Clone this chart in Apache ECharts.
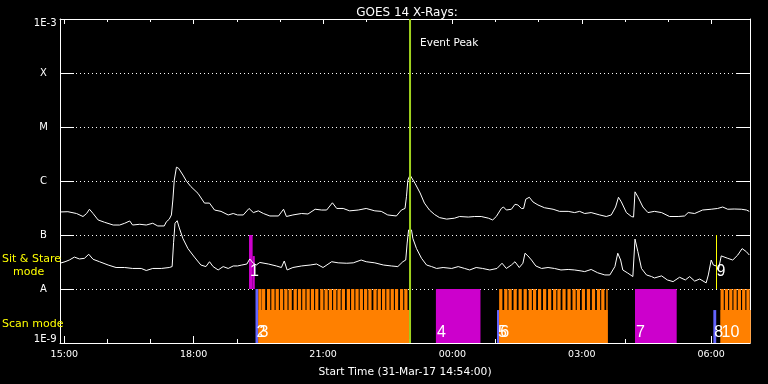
<!DOCTYPE html>
<html><head><meta charset="utf-8">
<script src="https://cdn.jsdelivr.net/npm/echarts@6/dist/echarts.min.js"></script>
<style>html,body{margin:0;padding:0;background:#000}#c{width:768px;height:384px}</style>
</head><body><div id="c"></div>
<script>
// ---------- data (times are clock times; before 14:54 means 1-Apr-17) ----------
const startTime = '14:54';
const endTime = '06:54';
const xTickLabels = ['15:00', '18:00', '21:00', '00:00', '03:00', '06:00'];
const yTickLabels = ['1E-9', 'A', 'B', 'C', 'M', 'X', '1E-3'];

// GOES 14 long channel (upper curve), W/m^2
const longTimes = ['14:54','15:05','15:17','15:26','15:31','15:35','15:40','15:47','15:56','16:08','16:17','16:24','16:31','16:35','16:45','16:54','17:03','17:10','17:19','17:22','17:26','17:29','17:31','17:33','17:36','17:39','17:45','17:50','17:56','18:06','18:15','18:22','18:29','18:38','18:48','18:55','19:01','19:09','19:17','19:23','19:30','19:37','19:46','19:58','20:05','20:09','20:18','20:30','20:39','20:49','20:58','21:05','21:13','21:19','21:28','21:37','21:49','22:00','22:12','22:21','22:30','22:42','22:49','22:54','22:56','22:58','23:01','23:03','23:08','23:15','23:21','23:28','23:35','23:42','23:52','00:03','00:10','00:22','00:31','00:40','00:50','00:56','01:01','01:08','01:11','01:15','01:22','01:27','01:31','01:36','01:39','01:42','01:47','01:52','01:59','02:08','02:20','02:29','02:41','02:50','02:57','03:04','03:13','03:25','03:34','03:41','03:47','03:51','03:55','04:02','04:09','04:12','04:14','04:18','04:25','04:32','04:41','04:51','05:02','05:14','05:23','05:28','05:37','05:48','06:00','06:09','06:16','06:23','06:32','06:42','06:49','06:53'];
const longFlux = [2.67e-7,2.7e-7,2.5e-7,2.2e-7,2.5e-7,3.0e-7,2.5e-7,1.9e-7,1.72e-7,1.53e-7,1.53e-7,1.65e-7,1.82e-7,1.53e-7,1.58e-7,1.53e-7,1.65e-7,1.47e-7,1.47e-7,1.76e-7,1.96e-7,2.35e-7,4.45e-7,1.04e-6,1.8e-6,1.72e-6,1.29e-6,9.9e-7,7.9e-7,5.9e-7,3.9e-7,3.9e-7,2.9e-7,2.74e-7,2.35e-7,2.5e-7,2.35e-7,2.35e-7,3.1e-7,2.6e-7,2.8e-7,2.5e-7,2.25e-7,2.25e-7,3.0e-7,2.2e-7,2.35e-7,2.5e-7,2.45e-7,3.0e-7,2.9e-7,2.9e-7,3.95e-7,3.1e-7,3.1e-7,2.8e-7,2.9e-7,3.1e-7,2.8e-7,2.74e-7,2.35e-7,2.25e-7,2.9e-7,3.1e-7,5.1e-7,1.04e-6,1.29e-6,1.2e-6,9.0e-7,6.0e-7,3.9e-7,2.9e-7,2.4e-7,2.1e-7,1.97e-7,2.05e-7,2.2e-7,2.15e-7,2.2e-7,2.2e-7,2.05e-7,1.9e-7,2.2e-7,3.1e-7,3.3e-7,2.9e-7,3.0e-7,3.7e-7,3.6e-7,3.1e-7,3.1e-7,4.6e-7,5.0e-7,4.1e-7,3.6e-7,3.2e-7,3.0e-7,2.74e-7,2.74e-7,2.6e-7,2.74e-7,2.5e-7,2.6e-7,2.35e-7,2.2e-7,2.35e-7,3.3e-7,5.0e-7,4.1e-7,2.6e-7,2.2e-7,2.15e-7,6.3e-7,5.1e-7,3.3e-7,2.6e-7,2.74e-7,2.6e-7,2.2e-7,2.2e-7,2.25e-7,2.6e-7,2.5e-7,2.9e-7,3.0e-7,3.1e-7,3.3e-7,3.0e-7,3.03e-7,3.0e-7,2.9e-7,2.74e-7];

// GOES 14 short channel (lower curve), W/m^2
const shortTimes = ['14:54','15:01','15:07','15:14','15:21','15:28','15:34','15:40','15:49','16:01','16:12','16:24','16:35','16:47','16:54','17:03','17:15','17:26','17:30','17:32','17:34','17:37','17:40','17:45','17:52','18:01','18:10','18:17','18:22','18:27','18:34','18:41','18:48','18:55','19:01','19:07','19:14','19:18','19:23','19:27','19:32','19:44','19:55','20:02','20:06','20:10','20:18','20:30','20:42','20:51','21:00','21:12','21:21','21:33','21:42','21:53','22:00','22:12','22:24','22:35','22:44','22:51','22:55','22:57','22:59','23:01','23:03','23:05','23:10','23:17','23:24','23:31','23:38','23:47','23:59','00:08','00:17','00:24','00:33','00:42','00:52','01:02','01:09','01:15','01:22','01:27','01:33','01:38','01:41','01:45','01:50','01:56','02:04','02:13','02:22','02:31','02:41','02:50','02:59','03:04','03:13','03:22','03:32','03:39','03:46','03:50','03:54','03:57','04:04','04:11','04:14','04:18','04:23','04:30','04:37','04:41','04:51','04:59','05:07','05:16','05:24','05:30','05:37','05:44','05:53','05:56','06:00','06:03','06:07','06:10','06:14','06:23','06:30','06:37','06:43','06:49','06:53'];
const shortFlux = [3.0e-8,3.2e-8,3.44e-8,3.9e-8,3.6e-8,3.7e-8,4.4e-8,3.55e-8,3.2e-8,2.78e-8,2.5e-8,2.5e-8,2.4e-8,2.4e-8,2.2e-8,2.4e-8,2.4e-8,2.5e-8,2.6e-8,7.2e-8,1.65e-7,1.84e-7,1.35e-7,8.6e-8,5.6e-8,3.9e-8,2.78e-8,2.6e-8,3.2e-8,2.6e-8,2.25e-8,2.6e-8,2.4e-8,2.67e-8,2.67e-8,2.78e-8,2.9e-8,3.6e-8,3.0e-8,2.78e-8,3.1e-8,2.9e-8,2.67e-8,2.5e-8,3.3e-8,2.25e-8,2.5e-8,2.67e-8,2.78e-8,2.9e-8,2.5e-8,3.2e-8,3.05e-8,3.0e-8,3.05e-8,3.44e-8,3.2e-8,3.05e-8,2.78e-8,2.67e-8,2.6e-8,3.2e-8,3.44e-8,7.1e-8,1.24e-7,1.3e-7,1.24e-7,8.6e-8,5.6e-8,3.7e-8,2.78e-8,2.6e-8,2.4e-8,2.5e-8,2.4e-8,2.6e-8,2.4e-8,2.25e-8,2.5e-8,2.4e-8,2.25e-8,2.4e-8,3.0e-8,2.4e-8,2.78e-8,3.2e-8,2.5e-8,3.0e-8,4.6e-8,4.1e-8,3.44e-8,2.67e-8,2.4e-8,2.5e-8,2.4e-8,2.25e-8,2.3e-8,2.25e-8,2.16e-8,2.1e-8,2.3e-8,2.0e-8,1.82e-8,1.82e-8,2.6e-8,4.6e-8,3.44e-8,2.25e-8,1.97e-8,1.7e-8,8.4e-8,4.9e-8,2.4e-8,1.82e-8,1.7e-8,1.6e-8,1.75e-8,1.47e-8,1.37e-8,1.65e-8,1.47e-8,1.7e-8,1.4e-8,1.53e-8,1.3e-8,1.82e-8,3.44e-8,2.78e-8,2.67e-8,2.25e-8,4.1e-8,3.7e-8,3.44e-8,4.26e-8,5.6e-8,4.9e-8,4.26e-8];

const eventPeak = '23:01';

// observations
const obsLabel  = ['1',     '',      '2',     '3',      '4',     '5',     '6',      '7',     '8',     '9',      '10'];
const obsLane   = ['sit',   'sit',   'scan',  'scan',   'scan',  'scan',  'scan',   'scan',  'scan',  'sit',    'scan'];
const obsKind   = ['stare', 'stare', 'blue',  'raster', 'stare', 'blue',  'raster', 'stare', 'blue',  'marker', 'raster'];
const obsExtent = ['full',  'part',  'full',  'part',   'full',  'part',  'part',   'full',  'part',  'full',   'part'];
const obsStart  = ['19:17', '19:22', '19:26', '19:30',  '23:37', '01:02', '01:05',  '04:14', '06:03', '06:06',  '06:13'];
const obsEnd    = ['19:22', '19:25', '19:30', '23:00',  '00:39', '01:05', '03:36',  '05:12', '06:07', '06:06',  '06:55'];

// raster frame start times within the scan blocks '3', '6', '10'
const rasters3 = ['19:30','19:35','19:42','19:48','19:54','20:00','20:06','20:12','20:19','20:25','20:31','20:37','20:43','20:49','20:56','21:02','21:08','21:14','21:20','21:26','21:33','21:39','21:45','21:51','21:57','22:03','22:10','22:16','22:22','22:28','22:34','22:40','22:47','22:53'];
const rasters6 = ['01:05','01:12','01:18','01:25','01:32','01:39','01:46','01:52','01:59','02:06','02:13','02:20','02:26','02:33','02:40','02:47','02:53','03:00','03:07','03:14','03:21','03:27','03:34'];
const rasters10 = ['06:13','06:19','06:25','06:31','06:37','06:43','06:49'];
const rasterMinutes = 4.5;

// ---------- helpers ----------
const FONT = '"DejaVu Sans", sans-serif';
function toMin(s) {
  const p = s.split(':').map(Number);
  let v = p[0] * 60 + p[1];
  if (v < 14 * 60 + 54) v += 1440;
  return v;
}
function fmt(v) {
  const m = ((Math.round(v) % 1440) + 1440) % 1440;
  const h = Math.floor(m / 60), mm = m % 60;
  return (h < 10 ? '0' : '') + h + ':' + (mm < 10 ? '0' : '') + mm;
}
const xMin = toMin(startTime), xMax = toMin(endTime);
const majorTicks = xTickLabels.map(toMin);
const hourTicks = [];
for (let m = majorTicks[0]; m <= majorTicks[majorTicks.length - 1]; m += 60) hourTicks.push(m);

const colors = { stare: '#cc00cc', blue: '#6464ff', raster: '#ff8000', marker: '#ffff00' };
const laneBottom = { scan: 1e-9, sit: 1e-8 };
const PART = 0.61;          // fraction (in decades) of lane for partial bars
const labelPos = { scan: 0.185, sit: 0.32 };

const longData = longTimes.map((t, i) => [toMin(t), longFlux[i]]);
const shortData = shortTimes.map((t, i) => [toMin(t), shortFlux[i]]);

// bars: [start, end, yBottom, yTop, colorKey]
const bars = [];
obsLabel.forEach((lab, i) => {
  if (obsKind[i] === 'marker') return;
  const b = laneBottom[obsLane[i]];
  const top = obsExtent[i] === 'full' ? b * 10 : b * Math.pow(10, PART);
  bars.push([toMin(obsStart[i]), toMin(obsEnd[i]), b, top, obsKind[i]]);
});
[['3', rasters3], ['6', rasters6], ['10', rasters10]].forEach(([lab, arr]) => {
  const i = obsLabel.indexOf(lab);
  const end = toMin(obsEnd[i]);
  const b = laneBottom[obsLane[i]];
  arr.forEach(s => {
    const st = toMin(s);
    bars.push([st, Math.min(st + rasterMinutes, end), b, b * 10, 'raster']);
  });
});
const markers = [];
obsLabel.forEach((lab, i) => {
  if (obsKind[i] !== 'marker') return;
  const b = laneBottom[obsLane[i]];
  markers.push([toMin(obsStart[i]), b, b * 10]);
});
const labels = [];
obsLabel.forEach((lab, i) => {
  if (!lab) return;
  const b = laneBottom[obsLane[i]];
  labels.push([toMin(obsStart[i]), b * Math.pow(10, labelPos[obsLane[i]]), lab]);
});

const chart = echarts.init(document.getElementById('c'), null, { renderer: 'canvas' });
const white = '#ffffff';

function xAx(pos, tickVals, len, showLine, showLabel) {
  const a = {
    type: 'value', min: xMin, max: xMax, position: pos,
    axisLine: { show: showLine, onZero: false, lineStyle: { color: white, width: 1 } },
    axisTick: { show: true, inside: true, length: len, customValues: tickVals, lineStyle: { color: white, width: 1 } },
    axisLabel: { show: false },
    splitLine: { show: false }
  };
  if (showLabel) {
    a.axisLabel = { show: true, customValues: majorTicks, formatter: v => fmt(v), color: white, fontSize: 9.5, fontFamily: FONT, margin: 7 };
    a.name = 'Start Time (31-Mar-17 14:54:00)';
    a.nameLocation = 'middle';
    a.nameGap = 24;
    a.nameTextStyle = { color: white, fontSize: 10.7, fontFamily: FONT };
  }
  return a;
}

const option = {
  backgroundColor: '#000',
  animation: false,
  title: {
    text: 'GOES 14 X-Rays:', left: 402, top: 2, textAlign: 'center',
    textStyle: { color: white, fontSize: 12, fontWeight: 'normal', fontFamily: FONT }
  },
  grid: { left: 60, top: 19, width: 690, height: 324, containLabel: false },
  xAxis: [
    xAx('bottom', hourTicks, 4, true, true),
    xAx('bottom', majorTicks, 7, false, false),
    xAx('top', hourTicks, 3, true, false),
    xAx('top', majorTicks, 5, false, false)
  ],
  yAxis: [
    {
      type: 'log', logBase: 10, min: 1e-9, max: 1e-3, position: 'left', splitNumber: 6,
      axisLine: { show: true, onZero: false, lineStyle: { color: white, width: 1 } },
      axisTick: { show: true, inside: true, length: 14, lineStyle: { color: white, width: 1 } },
      axisLabel: {
        show: true, showMinLabel: true, showMaxLabel: true, margin: 3.5,
        color: white, fontSize: 10, fontFamily: FONT,
        formatter: v => {
          const k = Math.round(Math.log10(v)) + 9;
          const s = yTickLabels[k];
          if (k === 0) return '{b|' + s + '}';
          if (k === 6) return '{t|' + s + '}';
          return '{c|' + s + '}';
        },
        rich: {
          t: { color: white, fontSize: 10, fontFamily: FONT, padding: [8, 0, 0, 0] },
          b: { color: white, fontSize: 10, fontFamily: FONT, padding: [0, 0, 8, 0] },
          c: { color: white, fontSize: 10, fontFamily: FONT, width: 26, align: 'center' }
        }
      },
      splitLine: { show: true, showMinLine: false, showMaxLine: false, lineStyle: { color: white, width: 1, type: [1, 3] } }
    },
    {
      type: 'log', logBase: 10, min: 1e-9, max: 1e-3, position: 'right', splitNumber: 6,
      axisLine: { show: true, onZero: false, lineStyle: { color: white, width: 1 } },
      axisTick: { show: true, inside: true, length: 14, lineStyle: { color: white, width: 1 } },
      axisLabel: { show: false },
      splitLine: { show: false }
    }
  ],
  graphic: [
    { type: 'text', x: 2, y: 259, z: 10, style: { text: 'Sit & Stare', fill: '#ffff00', font: '11px ' + FONT, textVerticalAlign: 'middle', verticalAlign: 'middle' } },
    { type: 'text', x: 13, y: 272, z: 10, style: { text: 'mode', fill: '#ffff00', font: '11px ' + FONT, textVerticalAlign: 'middle', verticalAlign: 'middle' } },
    { type: 'text', x: 2, y: 324, z: 10, style: { text: 'Scan mode', fill: '#ffff00', font: '11px ' + FONT, textVerticalAlign: 'middle', verticalAlign: 'middle' } }
  ],
  series: [
    {
      type: 'custom', z: 1, clip: false,
      encode: { x: [0, 1], y: [2, 3] },
      data: bars,
      renderItem: (params, api) => {
        const d = bars[params.dataIndex];
        const p0 = api.coord([d[0], d[3]]);
        const p1 = api.coord([d[1], d[2]]);
        return { type: 'rect', shape: { x: p0[0], y: p0[1], width: p1[0] - p0[0], height: p1[1] - p0[1] }, style: { fill: colors[d[4]] } };
      }
    },
    {
      type: 'line', z: 3, data: longData, showSymbol: false, symbol: 'none',
      lineStyle: { color: white, width: 1 }, itemStyle: { color: white }
    },
    {
      type: 'line', z: 3, data: shortData, showSymbol: false, symbol: 'none',
      lineStyle: { color: white, width: 1 }, itemStyle: { color: white }
    },
    {
      type: 'custom', z: 5, clip: false,
      encode: { x: 0, y: [1, 2] },
      data: markers,
      renderItem: (params, api) => {
        const d = markers[params.dataIndex];
        const p0 = api.coord([d[0], d[2]]);
        const p1 = api.coord([d[0], d[1]]);
        const x = Math.round(p0[0]) + 0.5;
        return { type: 'line', shape: { x1: x, y1: p0[1], x2: x, y2: p1[1] }, style: { stroke: colors.marker, lineWidth: 1 } };
      }
    },
    {
      type: 'custom', z: 6, clip: false,
      encode: { x: 0, y: 1 },
      data: labels.map(l => [l[0], l[1]]),
      renderItem: (params, api) => {
        const d = labels[params.dataIndex];
        const p = api.coord([d[0], d[1]]);
        return {
          type: 'text', x: p[0] + 1, y: p[1],
          style: { text: d[2], fill: white, font: '16px "Liberation Sans", sans-serif', textAlign: 'left', align: 'left', textVerticalAlign: 'middle', verticalAlign: 'middle' }
        };
      }
    },
    {
      type: 'custom', z: 7, clip: false,
      encode: { x: 0, y: [1, 2] },
      data: [[toMin(eventPeak), 1e-9, 1e-3]],
      renderItem: (params, api) => {
        const t = toMin(eventPeak);
        const pt = api.coord([t, 1e-3]);
        const pb = api.coord([t, 1e-9]);
        return {
          type: 'group', children: [
            { type: 'line', shape: { x1: pt[0], y1: pt[1], x2: pb[0], y2: pb[1] }, style: { stroke: '#a0d21e', lineWidth: 2 } },
            { type: 'text', x: pt[0] + 10, y: pt[1] + 24, style: { text: 'Event Peak', fill: white, font: '10.5px ' + FONT, textAlign: 'left', align: 'left', textVerticalAlign: 'middle', verticalAlign: 'middle' } }
          ]
        };
      }
    }
  ]
};
chart.setOption(option);
</script></body></html>
